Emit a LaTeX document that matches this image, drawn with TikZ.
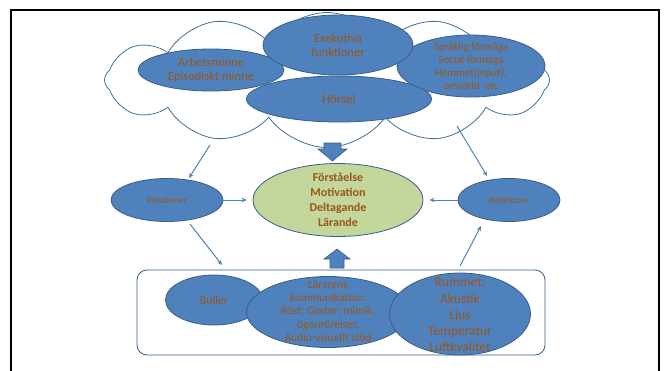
\documentclass[tikz,border=0pt]{standalone}
\usepackage{fontspec}
\setmainfont{Carlito}
\usetikzlibrary{shapes.geometric,shapes.symbols,arrows.meta}
\definecolor{bfill}{RGB}{79,129,189}
\definecolor{bline}{RGB}{56,93,138}
\definecolor{cline}{RGB}{65,113,156}
\definecolor{gfill}{RGB}{195,214,155}
\definecolor{tbrown}{RGB}{152,86,28}
\tikzset{
  blue ell/.style={ellipse, fill=bfill, draw=bline, line width=0.8pt, inner sep=0pt},
  etext/.style={text=tbrown, align=center, inner sep=0pt},
  conn/.style={draw=bfill, line width=1pt, -{Stealth[length=5pt,width=4.5pt]}},
  blockarr/.style={fill=bfill, draw=bline, line width=0.6pt},
}
\begin{document}
\begin{tikzpicture}[x=1pt,y=-1pt]
\useasboundingbox (0,0) rectangle (667,370);
\clip (0,0) rectangle (667,370);
\fill[white] (0,0) rectangle (667,370);
% frame
\draw[black, line width=2pt] (11,380) -- (11,10) -- (659,10) -- (659,380);
% cloud
\node[cloud, cloud puffs=12, cloud puff arc=110, aspect=3.3, minimum width=445pt, minimum height=135pt, draw=cline, fill=white, line width=0.8pt] (cloud) at (327,80) {};
% top ellipses
\node[blue ell, minimum width=146pt, minimum height=42pt] (arb) at (211,70) {};
\node[etext, font=\fontsize{12.5}{14.5}\selectfont] (arbt) at (arb) {Arbetsminne\\Episodiskt minne};
\node[blue ell, minimum width=148pt, minimum height=62pt] (spr) at (471,66) {};
\node[etext, font=\fontsize{11}{13}\selectfont] (sprt) at (spr) {Språklig förmåga\\Social förmåga\\Hemmet(input),\\omvärld~~etc};
\node[blue ell, minimum width=150pt, minimum height=60pt] (exe) at (338,45) {};
\node[etext, font=\fontsize{12.5}{14}\selectfont] (exet) at (exe) {Exekutiva\\funktioner};
\node[blue ell, minimum width=185pt, minimum height=46pt] (hor) at (339,99) {};
\node[etext, font=\fontsize{13}{15}\selectfont] (hort) at (hor) {Hörsel};
% middle row
\node[blue ell, minimum width=112pt, minimum height=43pt] (lrel) at (167,200) {};
\node[etext, font=\fontsize{9.5}{11}\selectfont] (lrelt) at (lrel) {Relationer};
\node[blue ell, minimum width=102pt, minimum height=43pt] (rrel) at (509,200) {};
\node[etext, font=\fontsize{9.5}{11}\selectfont] (rrelt) at (rrel) {Relationer};
\node[ellipse, fill=gfill, draw=bline, line width=0.8pt, minimum width=170pt, minimum height=73pt, inner sep=0pt] (goal) at (338,200) {};
\node[etext, font=\bfseries\fontsize{12}{15}\selectfont] (goalt) at (goal) {Förståelse\\Motivation\\Deltagande\\Lärande};
% bottom box
\node[draw=bline, line width=0.8pt, rounded corners=10pt, minimum width=408pt, minimum height=85pt, inner sep=0pt] (room) at (341,312.5) {};
\node[blue ell, minimum width=97pt, minimum height=50pt] (bul) at (214,300) {};
\node[etext, font=\fontsize{12}{14}\selectfont] (bult) at (bul) {Buller};
\node[blue ell, minimum width=163pt, minimum height=71pt] (lar) at (328,312) {};
\node[etext, font=\fontsize{11.5}{13.3}\selectfont] (lart) at (328,311) {Lärarens\\kommunikation:\\Röst; Gester; mimik;\\ögonrörelser,\\Audio-visuellt stöd};
\node[blue ell, minimum width=141pt, minimum height=82pt] (rum) at (460,314) {};
\node[etext, font=\fontsize{13.5}{16.2}\selectfont] (rumt) at (460,315) {Rummet:\\Akustik\\Ljus\\Temperatur\\Luftkvalitet};
% connector endpoints
\coordinate (c1) at (210,145);
\coordinate (c1e) at (189,178);
\coordinate (c2) at (457,126);
\coordinate (c2e) at (487,176);
\coordinate (b1s) at (190,224);
\coordinate (b1e) at (222,265);
\coordinate (b2s) at (460,266);
\coordinate (b2e) at (481,226);
\draw[conn] (c1) -- (c1e);
\draw[conn] (c2) -- (c2e);
\draw[conn] (b1s) -- (b1e);
\draw[conn] (b2s) -- (b2e);
\draw[conn] (lrel.east) -- ([xshift=-6pt]goal.west);
\draw[conn] (rrel.west) -- ([xshift=6pt]goal.east);
% block arrows
\draw[blockarr] (324,143) -- (341,143) -- (341,149) -- (347,149) -- (332.5,161) -- (318,149) -- (324,149) -- cycle;
\draw[blockarr] (330,268) -- (344,268) -- (344,259) -- (350,259) -- (337,249) -- (324,259) -- (330,259) -- cycle;
\end{tikzpicture}
\end{document}
